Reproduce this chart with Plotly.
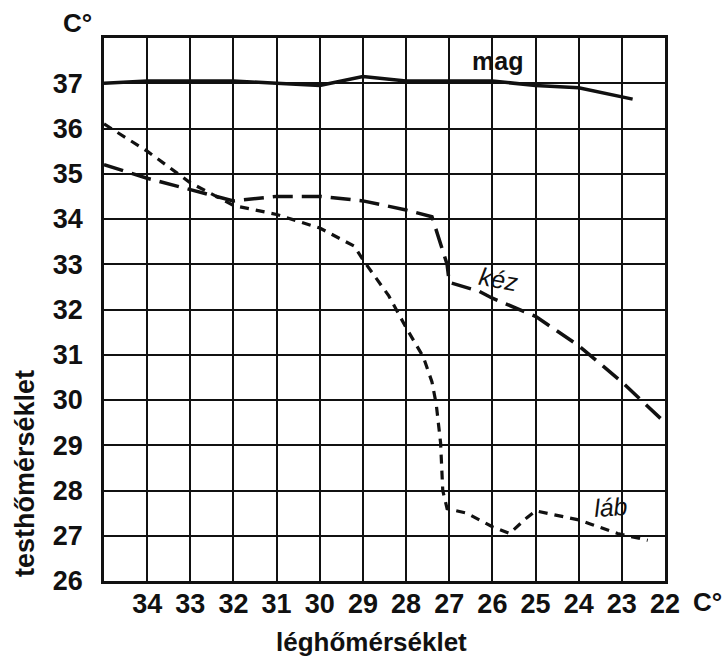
import plotly.graph_objects as go

# Data (air temperature on x, body temperature on y)
mag_x = [35, 34, 33, 32, 31, 30, 29, 28, 27, 26, 25, 24, 22.75]
mag_y = [37.0, 37.05, 37.05, 37.05, 37.0, 36.95, 37.15, 37.05, 37.05, 37.05, 36.95, 36.9, 36.65]

kez_x = [35, 34, 33, 32, 31, 30, 29, 28, 27.4, 27.05, 27, 26.3, 26, 25, 24, 23, 22]
kez_y = [35.2, 34.9, 34.65, 34.4, 34.5, 34.5, 34.4, 34.2, 34.05, 33.0, 32.6, 32.4, 32.25, 31.85, 31.2, 30.4, 29.5]

lab_x = [35, 34, 33, 32, 31, 30, 29.2, 29, 28.4, 28, 27.6, 27.4, 27.3, 27.2, 27.15, 27.05, 26.6, 26, 25.6, 25.2, 25, 24.3, 24, 23.7, 23.1, 22.4]
lab_y = [36.1, 35.5, 34.8, 34.3, 34.1, 33.8, 33.4, 33.1, 32.3, 31.6, 30.95, 30.4, 29.9, 29.05, 28.0, 27.6, 27.5, 27.2, 27.05, 27.4, 27.55, 27.4, 27.35, 27.25, 27.05, 26.9]

x_ticks = [34, 33, 32, 31, 30, 29, 28, 27, 26, 25, 24, 23, 22]
y_ticks = [26, 27, 28, 29, 30, 31, 32, 33, 34, 35, 36, 37]

FONT = "Liberation Sans"
INK = "#111111"
L, R, T, B = 104, 61, 38, 77
W, H = 726, 658

fig = go.Figure()
fig.add_trace(go.Scatter(x=mag_x, y=mag_y, mode="lines",
                         line=dict(color=INK, width=3.5), showlegend=False))
fig.add_trace(go.Scatter(x=kez_x, y=kez_y, mode="lines",
                         line=dict(color=INK, width=3.5, dash="20px,9px"), showlegend=False))
fig.add_trace(go.Scatter(x=lab_x, y=lab_y, mode="lines",
                         line=dict(color=INK, width=3.2, dash="9px,7px"), showlegend=False))

fig.update_layout(
    width=W, height=H,
    margin=dict(l=L, r=R, t=T, b=B),
    paper_bgcolor="white", plot_bgcolor="white",
    font=dict(family=FONT, color=INK),
)
fig.update_xaxes(range=[35, 22], tickvals=x_ticks, ticktext=[str(v) for v in x_ticks],
                 showgrid=True, gridcolor=INK, gridwidth=2,
                 showline=True, linecolor=INK, linewidth=2.5, mirror=True,
                 zeroline=False, ticks="", ticklabelstandoff=-3,
                 tickfont=dict(family=FONT, size=27, weight="bold", color=INK))
fig.update_yaxes(range=[26, 38], tickvals=y_ticks, ticktext=[str(v) for v in y_ticks],
                 showgrid=True, gridcolor=INK, gridwidth=2,
                 showline=True, linecolor=INK, linewidth=2.5, mirror=True,
                 zeroline=False, ticks="", ticklabelstandoff=13,
                 tickfont=dict(family=FONT, size=27, weight="bold", color=INK))

ann = [
    dict(text="C°", x=77, y=23, size=26, bold=True, angle=0),
    dict(text="C°", x=707, y=602, size=26, bold=True, angle=0),
    dict(text="léghőmérséklet", x=371, y=642, size=26, bold=True, angle=0),
    dict(text="testhőmérséklet", x=25, y=474, size=27, bold=True, angle=-90),
    dict(text="mag", x=497, y=61, size=25, bold=True, angle=0),
    dict(text="<i>kéz</i>", x=498, y=279, size=25, bold=False, angle=10),
    dict(text="<i>láb</i>", x=610, y=507, size=25, bold=False, angle=-4),
]
for a in ann:
    fig.add_annotation(
        text=a["text"], xref="paper", yref="paper",
        x=(a["x"] - L) / (W - L - R), y=1 - (a["y"] - T) / (H - T - B),
        xanchor="center", yanchor="middle", showarrow=False, textangle=a["angle"],
        font=dict(family=FONT, size=a["size"], color=INK,
                  weight="bold" if a["bold"] else "normal"),
        bgcolor="rgba(0,0,0,0)",
    )

fig.write_html("out.html", config={"displayModeBar": False},
               post_script="document.body.style.margin='0px';document.body.style.overflow='hidden';")
